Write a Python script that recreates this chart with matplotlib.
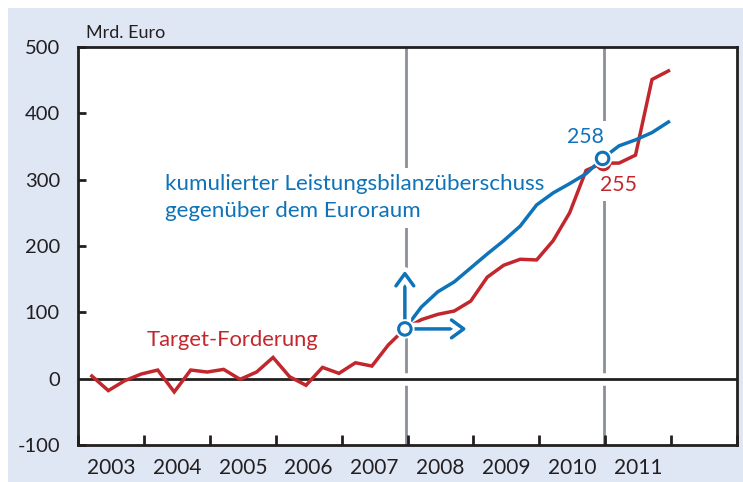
import numpy as np
import matplotlib
matplotlib.use("Agg")
import matplotlib.pyplot as plt
from matplotlib.patches import Rectangle, FancyArrowPatch
import matplotlib.patheffects as pe

plt.rcParams['font.family'] = ['Lato', 'DejaVu Sans']

# ---- data (quarterly, 2003 Q1 .. 2011 Q4) ----
start_year = 2003.21
target_claims = [4, -18, -3, 7, 13, -20, 13, 10, 14, -1,
                 10, 32, 3, -10, 17, 8, 24, 19, 51, 75,
                 89, 97, 102, 117, 153, 171, 180, 179, 208, 250,
                 314, 325, 325, 337, 451, 464]
# cumulated current account surplus vs. euro area, from 2008 Q1 onwards (index 19)
cum_surplus_start = 19
cum_surplus = [75, 108, 131, 146, 167, 188, 208, 230, 262, 280,
               294, 309, 332, 351, 360, 371, 387]
year_labels = ['2003', '2004', '2005', '2006', '2007', '2008', '2009', '2010', '2011']
y_ticks = [-100, 0, 100, 200, 300, 400, 500]
marker_idx = [19, 31]

RED = '#c1272d'
BLUE = '#0f73b9'
GRAY = '#8b9098'
DARK = '#231f20'
BG = '#dfe7f5'

dates = start_year + 0.25 * np.arange(len(target_claims))
dates_blue = dates[cum_surplus_start:cum_surplus_start + len(cum_surplus)]

fig = plt.figure(figsize=(7.43, 4.82), dpi=100, facecolor='white')
fig.patches.append(Rectangle((8 / 743, 0), 735 / 743, 474 / 482,
                             transform=fig.transFigure, facecolor=BG,
                             edgecolor='none', zorder=-10))
ax = fig.add_axes([78 / 743, 1 - 445 / 482, (737 - 78) / 743, (445 - 47) / 482])
ax.set_zorder(1)
ax.set_facecolor('white')

ax.set_xlim(2003, 2013)
ax.set_ylim(-100, 500)

# vertical reference lines
for i in marker_idx:
    ax.axvline(dates[i] + 0.02, color=GRAY, lw=2.0, zorder=1)

# zero line with white gap
ax.axhline(0, color=DARK, lw=2.0, zorder=2,
           path_effects=[pe.Stroke(linewidth=9, foreground='white'), pe.Normal()])

ax.plot(dates, target_claims, color=RED, lw=2.5, zorder=3, solid_joinstyle='miter')
ax.plot(dates_blue, cum_surplus, color=BLUE, lw=2.5, zorder=4, solid_joinstyle='miter')

# markers
i1, i2 = marker_idx
ax.plot([dates[i2]], [target_claims[i2]], 'o', ms=9, mfc='white', mec=RED, mew=2.2, zorder=5)
ax.plot([dates[i2]], [cum_surplus[i2 - cum_surplus_start]], 'o', ms=9, mfc='white', mec=BLUE,
        mew=2.2, zorder=6,
        path_effects=[pe.Stroke(linewidth=5, foreground='white'), pe.Normal()])

# arrows at 2008 start
x0, y0 = dates[i1], target_claims[i1]
for (xe, ye) in [(x0, 167), (2008.94, y0)]:
    arr = FancyArrowPatch((x0, y0), (xe, ye), arrowstyle='->,head_length=0.55,head_width=0.4',
                          mutation_scale=16, color=BLUE, lw=2.5, zorder=6,
                          path_effects=[pe.Stroke(linewidth=9, foreground='white'), pe.Normal()])
    ax.add_patch(arr)
ax.plot([x0], [y0], 'o', ms=9, mfc='white', mec=BLUE, mew=2.2, zorder=7,
        path_effects=[pe.Stroke(linewidth=5, foreground='white'), pe.Normal()])

# texts (white boxes only hide the grey reference lines)
box = dict(boxstyle='square,pad=0.3', facecolor='white', edgecolor='none')
ax.text(2005.35, 58, 'Target-Forderung', color=RED, fontsize=15.8, ha='center', va='center', zorder=2.5)
ax.text(2004.32, 273, 'kumulierter Leistungsbilanzüberschuss\ngegenüber dem Euroraum',
        color=BLUE, fontsize=16.1, ha='left', va='center', linespacing=1.42, zorder=2.5,
        bbox=box)
ax.text(2010.70, 364, '258', color=BLUE, fontsize=15.3, ha='center', va='center', zorder=2.5,
        bbox=box)
ax.text(2011.20, 292, '255', color=RED, fontsize=15.3, ha='center', va='center', zorder=2.5,
        bbox=box)

fig.text(86 / 743, 1 - 33 / 482, 'Mrd. Euro', fontsize=13, color=DARK, ha='left', va='center')

# axes styling
for s in ax.spines.values():
    s.set_linewidth(2.0)
    s.set_color(DARK)
    s.set_zorder(10)

ax.set_yticks(y_ticks)
ax.set_yticklabels([str(v) for v in y_ticks])
ax.tick_params(axis='y', direction='in', length=6, width=2, color=DARK,
               labelsize=14.5, labelcolor=DARK, pad=13)

ax.set_xticks(np.arange(2003, 2014))
ax.set_xticklabels([])
ax.tick_params(axis='x', which='major', direction='in', length=7, width=2, color=DARK)
ax.set_xticks(np.arange(2003, 2003 + len(year_labels)) + 0.5, minor=True)
ax.set_xticklabels(year_labels, minor=True)
ax.tick_params(axis='x', which='minor', length=0, labelsize=15, labelcolor=DARK, pad=9)

fig.savefig('out.png', dpi=100, facecolor=fig.get_facecolor())
